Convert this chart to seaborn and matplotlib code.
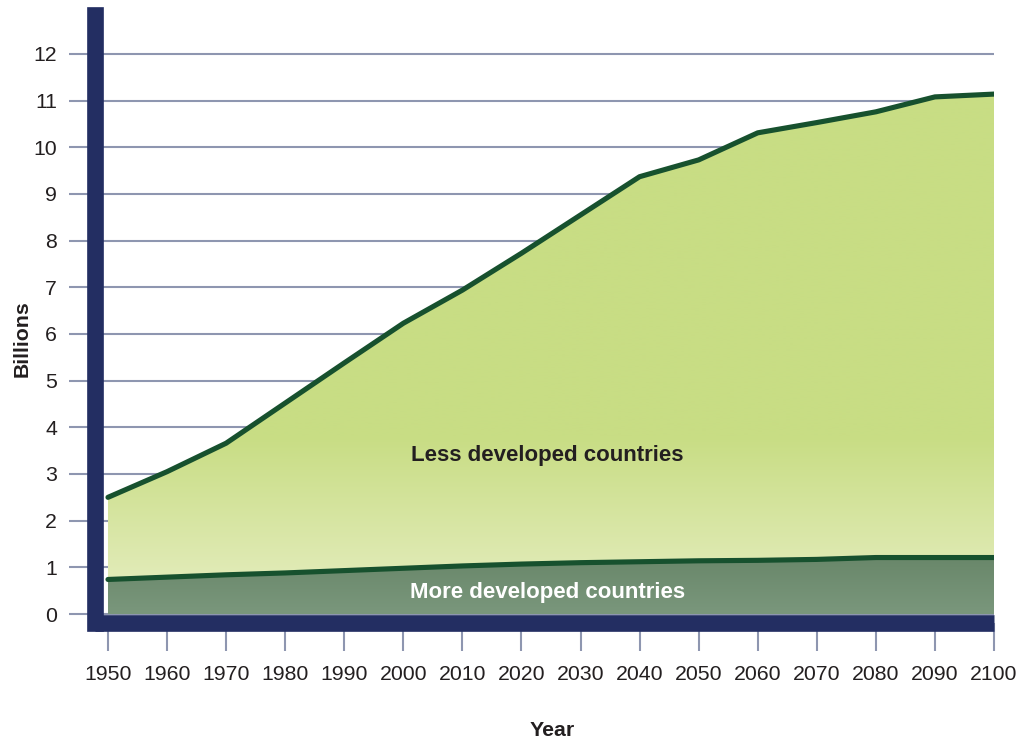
import numpy as np
import pandas as pd
import matplotlib
matplotlib.use("Agg")
import matplotlib.pyplot as plt
from matplotlib.colors import to_rgb
import seaborn as sns

# World population (billions) by region, 1950-2100
years = [1950, 1960, 1970, 1980, 1990, 2000, 2010, 2020,
         2030, 2040, 2050, 2060, 2070, 2080, 2090, 2100]
total_population = [2.50, 3.05, 3.66, 4.52, 5.38, 6.23, 6.94, 7.73,
                    8.55, 9.37, 9.73, 10.31, 10.53, 10.76, 11.08, 11.14]
more_developed = [0.74, 0.79, 0.84, 0.88, 0.93, 0.98, 1.03, 1.07,
                  1.10, 1.12, 1.14, 1.15, 1.17, 1.21, 1.21, 1.21]
y_ticks = list(range(0, 13))
x_ticks = years
less_label = "Less developed countries"
more_label = "More developed countries"

df = pd.DataFrame({"year": years, "total": total_population, "more": more_developed})

NAVY = "#232e62"
GRID = "#8e96b0"
LINE = "#17512e"
TEXT = "#231f20"

sns.set_theme(style="white")
plt.rcParams["font.family"] = ["Liberation Sans", "DejaVu Sans"]

fig = plt.figure(figsize=(10.21, 7.40), dpi=100)
W, H = 1021, 740
ax = fig.add_axes([95 / W, 1 - 622.5 / H, (994 - 95) / W, (622.5 - 15.5) / H])

XLIM = (1947.8, 2100)
YLIM = (-0.182, 12.824)
ax.set_xlim(*XLIM)
ax.set_ylim(*YLIM)


def gradient_fill(ax, x, y_low, y_high, c_top, c_bot, v_top, v_bot):
    poly = ax.fill_between(x, y_low, y_high, facecolor="none", edgecolor="none")
    path = poly.get_paths()[0]
    rows = np.linspace(YLIM[1], YLIM[0], 400)
    t = np.clip((rows - v_bot) / (v_top - v_bot), 0, 1)[:, None]
    top = np.array(to_rgb(c_top))
    bot = np.array(to_rgb(c_bot))
    img = (bot + t * (top - bot))[:, None, :]
    im = ax.imshow(img, extent=[XLIM[0], XLIM[1], YLIM[0], YLIM[1]],
                   origin="upper", aspect="auto", zorder=1,
                   interpolation="bilinear")
    im.set_clip_path(path, ax.transData)


# Stacked areas with soft vertical gradients
gradient_fill(ax, df["year"], df["more"], df["total"],
              "#c8dd84", "#e1ebb7", 3.8, 0.8)
gradient_fill(ax, df["year"], 0, df["more"],
              "#6a886b", "#7a977c", 1.15, 0.0)

# Boundary lines
sns.lineplot(data=df, x="year", y="total", color=LINE, linewidth=3.7,
             ax=ax, zorder=3)
sns.lineplot(data=df, x="year", y="more", color=LINE, linewidth=3.7,
             ax=ax, zorder=3)
ax.set_xlim(*XLIM)
ax.set_ylim(*YLIM)

# Grid and ticks
ax.set_axisbelow(True)
ax.yaxis.grid(True, color=GRID, linewidth=1.5)
ax.xaxis.grid(False)
ax.set_yticks(y_ticks)
ax.set_xticks(x_ticks)
ax.set_xticklabels([str(y) for y in x_ticks])
ax.tick_params(axis="y", direction="out", length=18.7, width=1.5,
               color=GRID, pad=8.5, labelsize=15.3, labelcolor=TEXT, left=True)
ax.tick_params(axis="x", direction="out", length=19.8, width=1.5,
               color=GRID, pad=11, labelsize=15.3, labelcolor=TEXT, bottom=True)

# Heavy navy axis bars
for side in ("top", "right"):
    ax.spines[side].set_visible(False)
for side in ("left", "bottom"):
    ax.spines[side].set_color(NAVY)
    ax.spines[side].set_linewidth(12)
    ax.spines[side].set_zorder(4)
ax.spines["left"].set_capstyle("projecting")
ax.spines["bottom"].set_capstyle("butt")

# Axis titles
ax.set_xlabel("Year", fontsize=15.3, fontweight="bold", color=TEXT)
ax.set_ylabel("Billions", fontsize=15.3, fontweight="bold", color=TEXT)
ax.xaxis.set_label_coords((552 - 95) / 899, (622.5 - 730) / 607)
ax.xaxis.label.set_va("center")
ax.yaxis.set_label_coords((22 - 95) / 899, (622.5 - 338.5) / 607)
ax.yaxis.label.set_va("center")

# Region labels
ax.text(2024.4, 3.40, less_label, ha="center", va="center", fontsize=16,
        fontweight="bold", color=TEXT, zorder=5)
ax.text(2024.4, 0.46, more_label, ha="center", va="center", fontsize=16,
        fontweight="bold", color="white", zorder=5)

fig.savefig("out.png", dpi=100, facecolor="white")
